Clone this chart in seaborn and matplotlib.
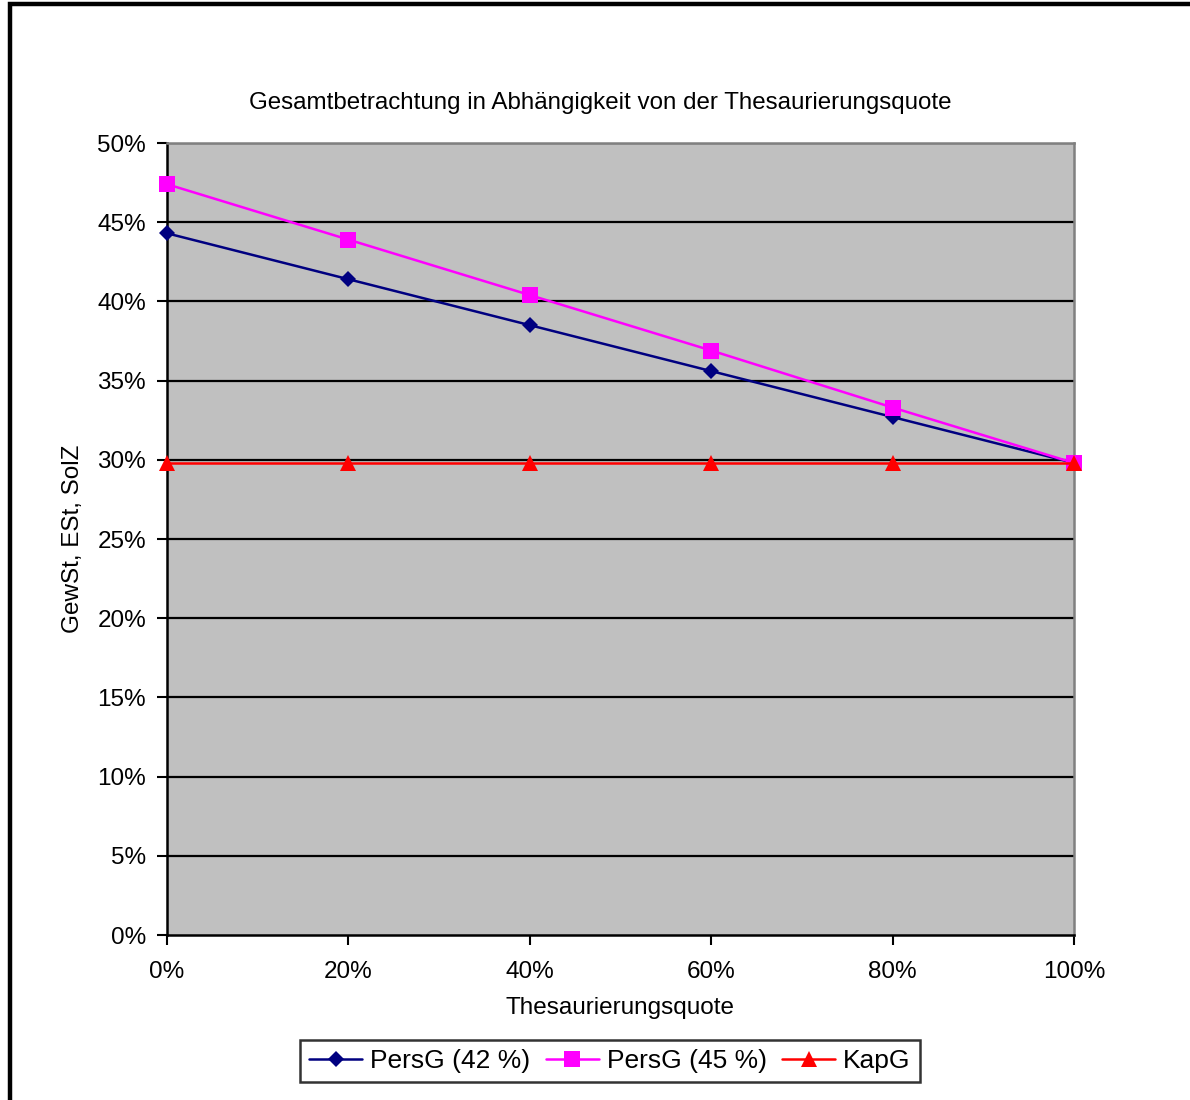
import numpy as np
import pandas as pd
import matplotlib.pyplot as plt
import matplotlib.patches as mpatches
import seaborn as sns

# data
quote = [0, 20, 40, 60, 80, 100]
pers42 = [44.3, 41.4, 38.5, 35.6, 32.7, 29.8]
pers45 = [47.4, 43.9, 40.4, 36.9, 33.3, 29.8]
kapg = [29.8, 29.8, 29.8, 29.8, 29.8, 29.8]
series_names = ['PersG (42 %)', 'PersG (45 %)', 'KapG']
x_ticks = [0, 20, 40, 60, 80, 100]
y_ticks = [0, 5, 10, 15, 20, 25, 30, 35, 40, 45, 50]

df = pd.concat([
    pd.DataFrame({'quote': quote, 'value': pers42, 'series': series_names[0]}),
    pd.DataFrame({'quote': quote, 'value': pers45, 'series': series_names[1]}),
    pd.DataFrame({'quote': quote, 'value': kapg, 'series': series_names[2]}),
])

sns.set_style('white')
plt.rcParams['font.family'] = ['Liberation Sans', 'DejaVu Sans']
plt.rcParams['text.color'] = 'black'
plt.rcParams['axes.labelcolor'] = 'black'
plt.rcParams['xtick.color'] = 'black'
plt.rcParams['ytick.color'] = 'black'

fig = plt.figure(figsize=(11.9, 11), dpi=100)
ax = fig.add_axes([167/1190, 0.15, (1074-167)/1190, 0.72])
ax.set_facecolor('#C0C0C0')

palette = {series_names[0]: '#000080', series_names[1]: '#FF00FF', series_names[2]: '#FF0000'}
markers = {series_names[0]: 'D', series_names[1]: 's', series_names[2]: '^'}
sizes = {series_names[0]: 8, series_names[1]: 11, series_names[2]: 11}

# horizontal gridlines
for y in y_ticks[1:]:
    ax.axhline(y, color='black', lw=1.6, zorder=1)

for name in series_names:
    sub = df[df.series == name]
    sns.lineplot(data=sub, x='quote', y='value', ax=ax, color=palette[name],
                 marker=markers[name], markersize=sizes[name], markeredgewidth=0,
                 lw=1.8, label=name, clip_on=False, zorder=3)

ax.set_xlim(0, 100)
ax.set_ylim(0, 50)
ax.set_xticks(x_ticks)
ax.set_xticklabels([f'{v}%' for v in x_ticks])
ax.set_yticks(y_ticks)
ax.set_yticklabels([f'{v}%' for v in y_ticks])
ax.tick_params(axis='both', labelsize=17.5, direction='out', length=7, width=1.5,
               color='black', bottom=True, left=True)
ax.tick_params(axis='x', pad=12)
ax.tick_params(axis='y', pad=8)

for s in ['left', 'bottom']:
    ax.spines[s].set_color('black')
    ax.spines[s].set_linewidth(1.8)
for s in ['right', 'top']:
    ax.spines[s].set_color('#808080')
    ax.spines[s].set_linewidth(1.8)

ax.set_xlabel('Thesaurierungsquote', fontsize=17.5, labelpad=10)
ax.set_ylabel('GewSt, ESt, SolZ', fontsize=17.5, labelpad=10)
fig.text(600/1190, 1 - 103/1100, 'Gesamtbetrachtung in Abhängigkeit von der Thesaurierungsquote',
         fontsize=17.4, ha='center', va='center')

ax.get_legend().remove()
handles, labels = ax.get_legend_handles_labels()
leg = fig.legend(handles, labels, loc='center', bbox_to_anchor=(610/1190, 1 - 1061/1100),
                 ncol=3, fontsize=19, frameon=True, fancybox=False, edgecolor='black',
                 handlelength=2.0, handletextpad=0.3, columnspacing=0.6,
                 borderpad=0.35)
leg.get_frame().set_linewidth(1.8)

# outer chart frame (left and top visible)
fig.patches.append(mpatches.Rectangle((10/1190, -0.1), 1.2, 1.1 - 4/1100,
                                      transform=fig.transFigure, fill=False,
                                      edgecolor='black', lw=3.2))

fig.savefig('out.png', dpi=100)
